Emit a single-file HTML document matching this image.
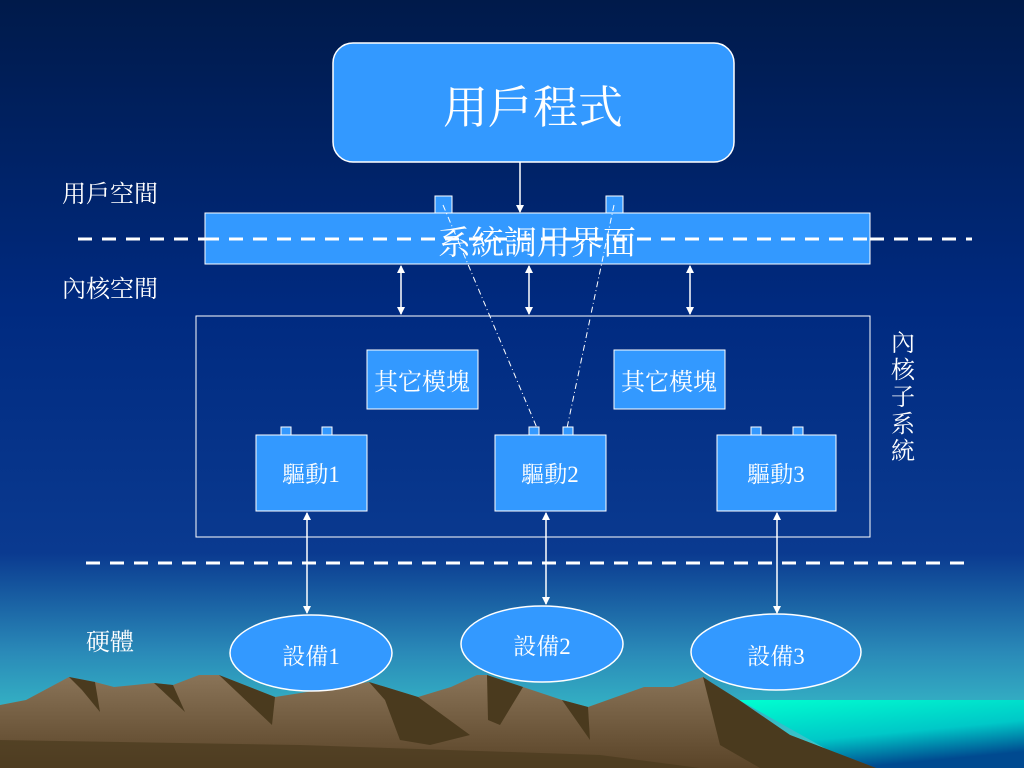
<!DOCTYPE html>
<html><head><meta charset="utf-8"><style>
html,body{margin:0;padding:0;width:1024px;height:768px;overflow:hidden}
svg{display:block}
text{font-family:"Liberation Serif","Noto Serif CJK SC","Noto Sans CJK TC",serif;fill:#fff}
</style></head><body>
<svg width="1024" height="768" viewBox="0 0 1024 768" xmlns="http://www.w3.org/2000/svg">
<defs>
<linearGradient id="bg" x1="0" y1="0" x2="0" y2="1">
<stop offset="0" stop-color="#001a4a"/>
<stop offset="0.4" stop-color="#002a80"/>
<stop offset="0.72" stop-color="#0a3a90"/>
<stop offset="0.85" stop-color="#2a8ab8"/>
<stop offset="0.95" stop-color="#38c0c8"/>
<stop offset="1" stop-color="#40c8c8"/>
</linearGradient>
<linearGradient id="sea" x1="0" y1="0" x2="0.4" y2="1">
<stop offset="0" stop-color="#00ffd0"/>
<stop offset="0.6" stop-color="#00c8c8"/>
<stop offset="1" stop-color="#004a90"/>
</linearGradient>
<linearGradient id="mt" x1="0" y1="0" x2="0" y2="1">
<stop offset="0" stop-color="#8a7458"/>
<stop offset="1" stop-color="#5a4428"/>
</linearGradient>
<marker id="ah" markerWidth="8" markerHeight="8" refX="7" refY="4" orient="auto-start-reverse" markerUnits="userSpaceOnUse"><path d="M0,0 L8,4 L0,8 z" fill="#fff"/></marker>
</defs>
<rect width="1024" height="768" fill="url(#bg)"/>
<polygon points="739,700 1024,700 1024,768 860,768" fill="url(#sea)"/>
<polygon points="0,705 26,700 69,677 95,682 114,687 154,683 173,685 199,675 219,675 275,697 307,692 369,682 418,697 451,687 477,675 487,675 523,687 562,700 588,707 644,687 673,687 703,677 712,683 739,700 790,735 876,768 0,768" fill="url(#mt)"/>
<polygon points="69,677 95,682 100,712 82,690" fill="#4a3a1e"/>
<polygon points="154,683 173,685 185,712" fill="#4a3a1e"/>
<polygon points="219,675 275,697 272,725" fill="#4a3a1e"/>
<polygon points="369,682 418,697 470,735 430,745 400,740 385,700" fill="#4a3a1e"/>
<polygon points="487,675 523,687 500,725 488,720" fill="#4a3a1e"/>
<polygon points="562,700 588,707 590,740" fill="#4a3a1e"/>
<polygon points="703,677 712,683 739,700 790,735 876,768 760,768 720,745" fill="#4a3a1e"/>
<polygon points="0,740 300,745 600,755 700,768 0,768" fill="#4a3a1e" opacity="0.7"/>

<line x1="78" y1="239" x2="972" y2="239" stroke="#fff" stroke-width="3" stroke-dasharray="14,10"/>
<line x1="86" y1="563" x2="972" y2="563" stroke="#fff" stroke-width="3" stroke-dasharray="14,10"/>

<rect x="333" y="43" width="401" height="119" rx="20" fill="#3399ff" stroke="#fff" stroke-width="1.5"/>
<text x="533" y="123" font-size="45" text-anchor="middle">用戶程式</text>
<line x1="520" y1="162" x2="520" y2="212" stroke="#fff" stroke-width="1.5" marker-end="url(#ah)"/>

<rect x="435" y="196" width="17" height="17" fill="#3399ff" stroke="#fff"/>
<rect x="606" y="196" width="17" height="17" fill="#3399ff" stroke="#fff"/>
<rect x="205" y="213" width="665" height="51" fill="#3399ff" stroke="#fff"/>
<line x1="205" y1="239" x2="870" y2="239" stroke="#fff" stroke-width="3" stroke-dasharray="14,10"/>
<text x="537" y="254" font-size="33" text-anchor="middle">系統調用界面</text>

<g stroke="#fff" stroke-width="1.5">
<line x1="401" y1="266" x2="401" y2="314" marker-start="url(#ah)" marker-end="url(#ah)"/>
<line x1="529" y1="266" x2="529" y2="314" marker-start="url(#ah)" marker-end="url(#ah)"/>
<line x1="690" y1="266" x2="690" y2="314" marker-start="url(#ah)" marker-end="url(#ah)"/>
</g>

<rect x="196" y="316" width="674" height="221" fill="none" stroke="#fff" stroke-width="1"/>
<rect x="367" y="350" width="111" height="59" fill="#3399ff" stroke="#fff"/>
<text x="422" y="390" font-size="24" text-anchor="middle">其它模塊</text>
<rect x="614" y="350" width="111" height="59" fill="#3399ff" stroke="#fff"/>
<text x="669" y="390" font-size="24" text-anchor="middle">其它模塊</text>

<g fill="#3399ff" stroke="#fff">
<rect x="281" y="427" width="10" height="8"/><rect x="322" y="427" width="10" height="8"/>
<rect x="529" y="427" width="10" height="8"/><rect x="563" y="427" width="10" height="8"/>
<rect x="751" y="427" width="10" height="8"/><rect x="793" y="427" width="10" height="8"/>
<rect x="256" y="435" width="111" height="76"/>
<rect x="495" y="435" width="111" height="76"/>
<rect x="717" y="435" width="119" height="76"/>
</g>
<text x="311" y="482" font-size="23" text-anchor="middle">驅動1</text>
<text x="550" y="482" font-size="23" text-anchor="middle">驅動2</text>
<text x="776" y="482" font-size="23" text-anchor="middle">驅動3</text>

<g stroke="#fff" stroke-width="1" stroke-dasharray="6,3,1,3" fill="none">
<line x1="443" y1="205" x2="537" y2="428"/>
<line x1="614" y1="205" x2="567" y2="428"/>
</g>

<g stroke="#fff" stroke-width="1.5">
<line x1="307" y1="513" x2="307" y2="613" marker-start="url(#ah)" marker-end="url(#ah)"/>
<line x1="546" y1="513" x2="546" y2="604" marker-start="url(#ah)" marker-end="url(#ah)"/>
<line x1="777" y1="513" x2="777" y2="613" marker-start="url(#ah)" marker-end="url(#ah)"/>
</g>

<g fill="#3399ff" stroke="#fff" stroke-width="1.5">
<ellipse cx="311" cy="653" rx="81" ry="38"/>
<ellipse cx="542" cy="644" rx="81" ry="38"/>
<ellipse cx="776" cy="652" rx="85" ry="38"/>
</g>
<text x="311" y="664" font-size="23" text-anchor="middle">設備1</text>
<text x="542" y="654" font-size="23" text-anchor="middle">設備2</text>
<text x="776" y="664" font-size="23" text-anchor="middle">設備3</text>

<text x="62" y="202" font-size="24">用戶空間</text>
<text x="62" y="297" font-size="24">內核空間</text>
<text x="86" y="650" font-size="24">硬體</text>
<g font-size="24" text-anchor="middle">
<text x="903" y="351">內</text>
<text x="903" y="378">核</text>
<text x="903" y="405">子</text>
<text x="903" y="432">系</text>
<text x="903" y="459">統</text>
</g>
</svg>
</body></html>
